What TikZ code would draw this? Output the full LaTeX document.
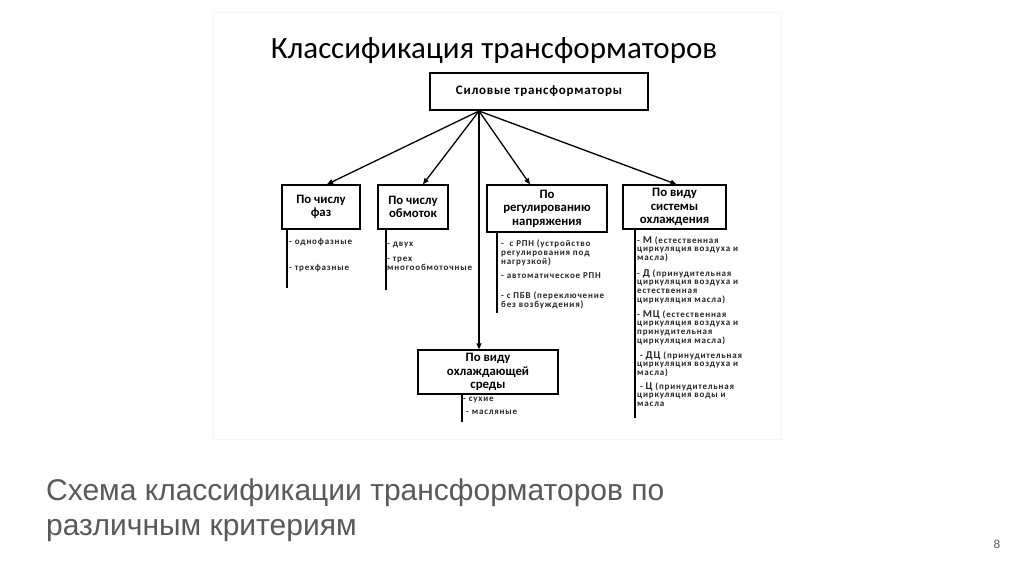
\documentclass[tikz,border=0pt]{standalone}
\usepackage{fontspec}
\setmainfont{Carlito}
\newfontfamily\capfont{Liberation Sans}
\newfontfamily\itemfont[LetterSpace=9]{Carlito}
\newfontfamily\rootfont[LetterSpace=6]{Carlito}
\usetikzlibrary{arrows.meta}
\definecolor{capgray}{HTML}{595959}
\tikzset{
  box/.style={draw, line width=1.4pt, align=center, inner sep=1pt,
    font=\bfseries\fontsize{12.8}{13.5}\selectfont},
  arr/.style={line width=1.3pt, -{Triangle[length=6pt,width=5pt]}},
  stem/.style={line width=1.3pt},
  item/.style={anchor=north west, align=left, inner sep=0pt,
    font=\itemfont\bfseries\fontsize{9}{8.8}\selectfont, text=black!85},
}
\begin{document}
\begin{tikzpicture}[x=1pt,y=-1pt]
\useasboundingbox (0,0) rectangle (1024,574);
\fill[white] (0,0) rectangle (1024,574);
\draw[black!4, line width=0.8pt] (213,12) rectangle (781,439);

\node[font=\fontsize{31}{31}\selectfont] (title) at (494,51) {Классификация трансформаторов};

\node[box, minimum width=218, minimum height=37, font=\rootfont\bfseries\fontsize{13}{13}\selectfont] (root) at (539,91.5) {Силовые трансформаторы};

\node[box, minimum width=78, minimum height=44] (b1) at (321,207) {По числу\\фаз};
\node[box, minimum width=70, minimum height=44] (b2) at (413,207) {По числу\\обмоток};
\node[box, minimum width=120, minimum height=47] (b3) at (547,208.5) {По\\регулированию\\напряжения};
\node[box, minimum width=103, minimum height=44] (b4) at (674.5,207) {По виду\\системы\\охлаждения};
\node[box, minimum width=140, minimum height=44] (b5) at (488,372) {По виду\\охлаждающей\\среды};

\coordinate (src) at (479,111);
\draw[arr] (src) -- ([xshift=6]b1.north);
\draw[arr] (src) -- ([xshift=10]b2.north);
\draw[arr] (src) -- ([xshift=-17]b3.north);
\draw[arr] (src) -- ([xshift=2]b4.north);
\draw[arr] (src) -- (src |- b5.north);

\coordinate (l1) at (287,288);
\coordinate (l2) at (386,290);
\coordinate (l3) at (497,313);
\coordinate (l4) at (635,418);
\coordinate (l5) at (462,422);
\draw[stem] (b1.south -| l1) -- (l1);
\draw[stem] (b2.south -| l2) -- (l2);
\draw[stem] (b3.south -| l3) -- (l3);
\draw[stem] (b4.south -| l4) -- (l4);
\draw[stem] (b5.south -| l5) -- (l5);

% list 1
\node[item] (t11) at (289,238) {- однофазные};
\node[item] (t12) at (289,264) {- трехфазные};
% list 2
\node[item] (t21) at (387,242) {- двух};
\node[item] (t22) at (387,257) {- трех\\многообмоточные};
% list 3
\node[item] (t31) at (501,240) {- \ с РПН (устройство\\регулирования под\\нагрузкой)};
\node[item] (t32) at (501,272) {- автоматическое РПН};
\node[item] (t33) at (501,292) {- с ПБВ (переключение\\без возбуждения)};
% list 4
\node[item] (t41) at (637,236) {- {\fontsize{10.5}{8.8}\selectfont М} (естественная\\циркуляция воздуха и\\масла)};
\node[item] (t42) at (637,269) {- {\fontsize{10.5}{8.8}\selectfont Д} (принудительная\\циркуляция воздуха и\\естественная\\циркуляция масла)};
\node[item] (t43) at (637,310) {- {\fontsize{10.5}{8.8}\selectfont МЦ} (естественная\\циркуляция воздуха и\\принудительная\\циркуляция масла)};
\node[item] (t44) at (637,351) {\ - {\fontsize{10.5}{8.8}\selectfont ДЦ} (принудительная\\циркуляция воздуха и\\масла)};
\node[item] (t45) at (637,382) {\ - {\fontsize{10.5}{8.8}\selectfont Ц} (принудительная\\циркуляция воды и\\масла};
% list 5
\node[item] (t51) at (463,397) {- сухие};
\node[item] (t52) at (466,410) {- масляные};

\node[anchor=west, align=left, text=capgray, inner sep=0pt,
  font=\capfont\fontsize{30}{35}\selectfont] (cap) at (46,510)
  {Схема классификации трансформаторов по\\различным критериям};
\node[text=capgray, font=\capfont\fontsize{12}{12}\selectfont] (pg) at (997,544) {8};
\end{tikzpicture}
\end{document}
